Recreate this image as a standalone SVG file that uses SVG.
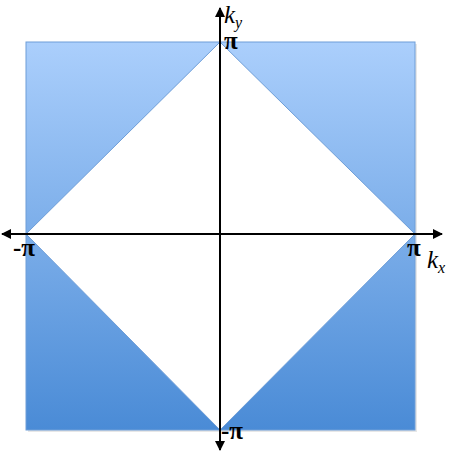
<svg xmlns="http://www.w3.org/2000/svg" width="456" height="452" viewBox="0 0 456 452">
<defs>
<linearGradient id="g" x1="0" y1="0" x2="0" y2="1">
<stop offset="0" stop-color="#abcffc"/>
<stop offset="1" stop-color="#4a8bd6"/>
</linearGradient>
<marker id="arr" viewBox="0 0 10 10" refX="9" refY="5" markerWidth="5" markerHeight="5" orient="auto-start-reverse" markerUnits="strokeWidth">
<path d="M0,0 L10,5 L0,10 z" fill="#000"/>
</marker>
</defs>
<rect width="456" height="452" fill="#fff"/>
<g id="zone">
<rect x="28" y="44" width="389" height="388" fill="#cfcfcf" opacity="0.5"/>
<rect x="26" y="42" width="389" height="388" fill="url(#g)" stroke="#6e9ed8" stroke-width="1"/>
<polygon points="220,42 415,234 220,430 26,234" fill="#fff" stroke="#6e9ed8" stroke-width="1"/>
</g>
<g id="axes">
<line x1="2" y1="234" x2="442" y2="234" stroke="#000" stroke-width="2" marker-start="url(#arr)" marker-end="url(#arr)"/>
<line x1="220" y1="450" x2="220" y2="8" stroke="#000" stroke-width="2" marker-start="url(#arr)" marker-end="url(#arr)"/>
</g>
<g id="labels" fill="#000" font-family="'Liberation Serif', 'DejaVu Serif', serif">
<g font-style="italic" font-size="25">
<text x="224" y="23">k<tspan font-size="16" dy="5">y</tspan></text>
<text x="427" y="268">k<tspan font-size="16" dy="5">x</tspan></text>
</g>
<g font-size="25" font-weight="bold">
<text x="224" y="49">π</text>
<text x="407" y="256">π</text>
<text x="13" y="256">-π</text>
<text x="221" y="439">-π</text>
</g>
</g>
</svg>
